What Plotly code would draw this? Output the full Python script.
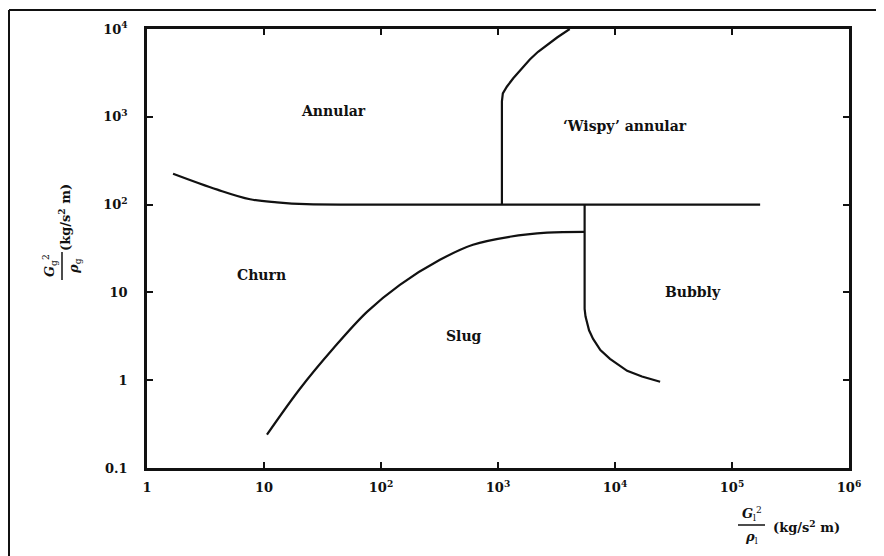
import math
import plotly.graph_objects as go

# ---- data ----
# Annular / Churn boundary
ac_x = [1.67, 4.0, 7.6, 12.9, 23, 100, 1000, 1.74e5]
ac_y = [225, 148, 115, 106, 101, 100, 100, 100]
# Annular / 'Wispy' annular boundary
wa_x = [1.08e3, 1.08e3, 1.1e3, 1.19e3, 1.35e3, 1.6e3, 1.87e3, 2.2e3, 2.6e3, 3.2e3, 4.1e3]
wa_y = [100, 1.5e3, 1.85e3, 2.2e3, 2.75e3, 3.6e3, 4.5e3, 5.5e3, 6.5e3, 8.0e3, 1.0e4]
# Churn / Slug boundary
cs_x = [10.6, 20.3, 38.9, 75.9, 145, 319, 611, 1.26e3, 2.63e3, 5.5e3]
cs_y = [0.24, 0.80, 2.28, 6.0, 12.2, 23.5, 34.9, 43, 47.9, 49]
# Slug / Bubbly boundary
sb_x = [5.5e3, 5.5e3, 5.6e3, 5.73e3, 6.0e3, 6.5e3, 7.5e3, 9.06e3, 1.1e4, 1.27e4, 1.7e4, 2.43e4]
sb_y = [100, 6.5, 5.3, 4.6, 3.7, 2.95, 2.2, 1.75, 1.45, 1.28, 1.1, 0.96]

# region labels
reg_text = ["Annular", "\u2018Wispy\u2019 annular", "Churn", "Slug", "Bubbly"]
reg_x = [39, 1.22e4, 9.6, 513, 4.64e4]
reg_y = [1150, 780, 15.6, 3.15, 10.2]

x_tickvals = [1, 10, 1e2, 1e3, 1e4, 1e5, 1e6]
x_ticktext = ["1", "10", "10<sup>2</sup>", "10<sup>3</sup>", "10<sup>4</sup>", "10<sup>5</sup>", "10<sup>6</sup>"]
y_tickvals = [0.1, 1, 10, 1e2, 1e3, 1e4]
y_ticktext = ["0.1", "1", "10", "10<sup>2</sup>", "10<sup>3</sup>", "10<sup>4</sup>"]

# ---- figure ----
OFF = 8                      # page body margin of the browser
W, H = 884 - OFF, 556 - OFF
L, R, T, B = 147, 849, 29, 468   # plot area, in screen pixels
FONT = "DejaVu Serif"
INK = "#111111"

def px_x(p):
    return (p - L) / (R - L)

def px_y(p):
    return (B - p) / (B - T)

fig = go.Figure()
for xs, ys, shp in [(ac_x, ac_y, "spline"), (wa_x, wa_y, "linear"),
                    (cs_x, cs_y, "spline"), (sb_x, sb_y, "linear")]:
    fig.add_trace(go.Scatter(x=xs, y=ys, mode="lines",
                             line=dict(color=INK, width=2.2, shape=shp),
                             hoverinfo="skip", showlegend=False))

for t, x, y in zip(reg_text, reg_x, reg_y):
    fig.add_annotation(x=math.log10(x), y=math.log10(y), xref="x", yref="y",
                       text="<b>" + t + "</b>", showarrow=False,
                       xanchor="center", yanchor="middle",
                       font=dict(family=FONT, size=14, color=INK))

def paper_text(x, y, text, angle=0, size=13):
    fig.add_annotation(x=px_x(x), y=px_y(y), xref="paper", yref="paper",
                       text=text, showarrow=False, textangle=angle,
                       xanchor="center", yanchor="middle",
                       font=dict(family=FONT, size=size, color=INK))

def paper_line(x0, y0, x1, y1, w=1.5):
    fig.add_shape(type="line", xref="paper", yref="paper",
                  x0=px_x(x0), x1=px_x(x1), y0=px_y(y0), y1=px_y(y1),
                  line=dict(color=INK, width=w))

# x-axis title as a fraction
paper_text(752, 514, "<b><i>G</i></b><sub>l</sub><sup>2</sup>")
paper_text(751, 537, "<b><i>\u03c1</i></b><sub>l</sub>")
paper_line(738, 525, 765, 525)
paper_text(806, 526, "<b>(kg/s<sup>2</sup> m)</b>")

# y-axis title as a rotated fraction
paper_text(50, 266, "<b><i>G</i></b><sub>g</sub><sup>2</sup>", angle=-90)
paper_text(74, 266, "<b><i>\u03c1</i></b><sub>g</sub>", angle=-90)
paper_line(62, 252, 62, 280)
paper_text(64, 218, "<b>(kg/s<sup>2</sup> m)</b>", angle=-90)

# outer frame (left and top edges of the scanned figure)
paper_line(9, 10, 9, 560, w=2)
paper_line(9, 10, 890, 10, w=2)

axis_common = dict(showgrid=False, zeroline=False, showline=True, linecolor=INK,
                   linewidth=2.5, mirror="ticks", ticks="inside", ticklen=6,
                   tickwidth=2, tickcolor=INK,
                   tickfont=dict(family=FONT, size=13, color=INK))

fig.update_xaxes(type="log", range=[0, 6], tickmode="array",
                 tickvals=x_tickvals, ticktext=["<b>" + t + "</b>" for t in x_ticktext],
                 ticklabelstandoff=6, **axis_common)
fig.update_yaxes(type="log", range=[-1, 4], tickmode="array",
                 tickvals=y_tickvals, ticktext=["<b>" + t + "</b>" for t in y_ticktext],
                 ticklabelstandoff=14, **axis_common)

fig.update_layout(width=W, height=H,
                  margin=dict(l=L - OFF, r=W - (R - OFF), t=T - OFF, b=H - (B - OFF),
                              autoexpand=False),
                  paper_bgcolor="white", plot_bgcolor="white",
                  showlegend=False)

fig.write_html("out.html")
